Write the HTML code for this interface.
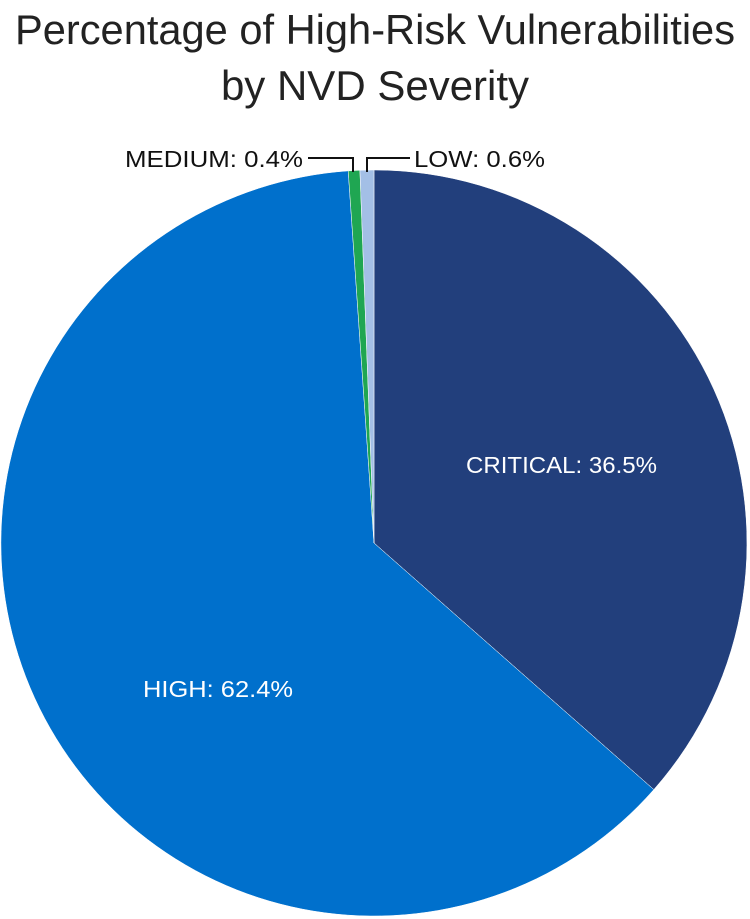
<!DOCTYPE html>
<html><head><style>
body{margin:0;background:#fff;}
svg{display:block;}
</style></head><body>
<svg width="750" height="919" xmlns="http://www.w3.org/2000/svg">
<g font-family="Liberation Sans, sans-serif">
<text x="375" y="44" font-size="42" text-anchor="middle" fill="#222" textLength="720" lengthAdjust="spacingAndGlyphs">Percentage of High-Risk Vulnerabilities</text>
<text x="375" y="100" font-size="42" text-anchor="middle" fill="#222">by NVD Severity</text>
</g>
<g transform="translate(374,543)" stroke="#fff" stroke-width="0.5">
<path d="M0,0 L0,-373 A373,373 0 0 1 279.8,246.6 Z" fill="#223f7c"/>
<path d="M0,0 L279.8,246.6 A373,373 0 1 1 -25.8,-372.1 Z" fill="#0070cc"/>
<path d="M0,0 L-25.8,-372.1 A373,373 0 0 1 -14.1,-372.7 Z" fill="#1fa652"/>
<path d="M0,0 L-14.1,-372.7 A373,373 0 0 1 0,-373 Z" fill="#a3bfe6"/>
</g>
<g fill="none" stroke="#111" stroke-width="2">
<polyline points="308,158 353,158 353,172"/>
<polyline points="367,172 367,158 410,158"/>
</g>
<g font-family="Liberation Sans, sans-serif" font-size="23">
<text x="303" y="167" text-anchor="end" fill="#111" textLength="178" lengthAdjust="spacingAndGlyphs">MEDIUM: 0.4%</text>
<text x="414" y="167" fill="#111" textLength="131" lengthAdjust="spacingAndGlyphs">LOW: 0.6%</text>
<text x="466" y="473" fill="#fff" textLength="191" lengthAdjust="spacingAndGlyphs">CRITICAL: 36.5%</text>
<text x="143" y="697" fill="#fff" textLength="150" lengthAdjust="spacingAndGlyphs">HIGH: 62.4%</text>
</g>
</svg>
</body></html>
